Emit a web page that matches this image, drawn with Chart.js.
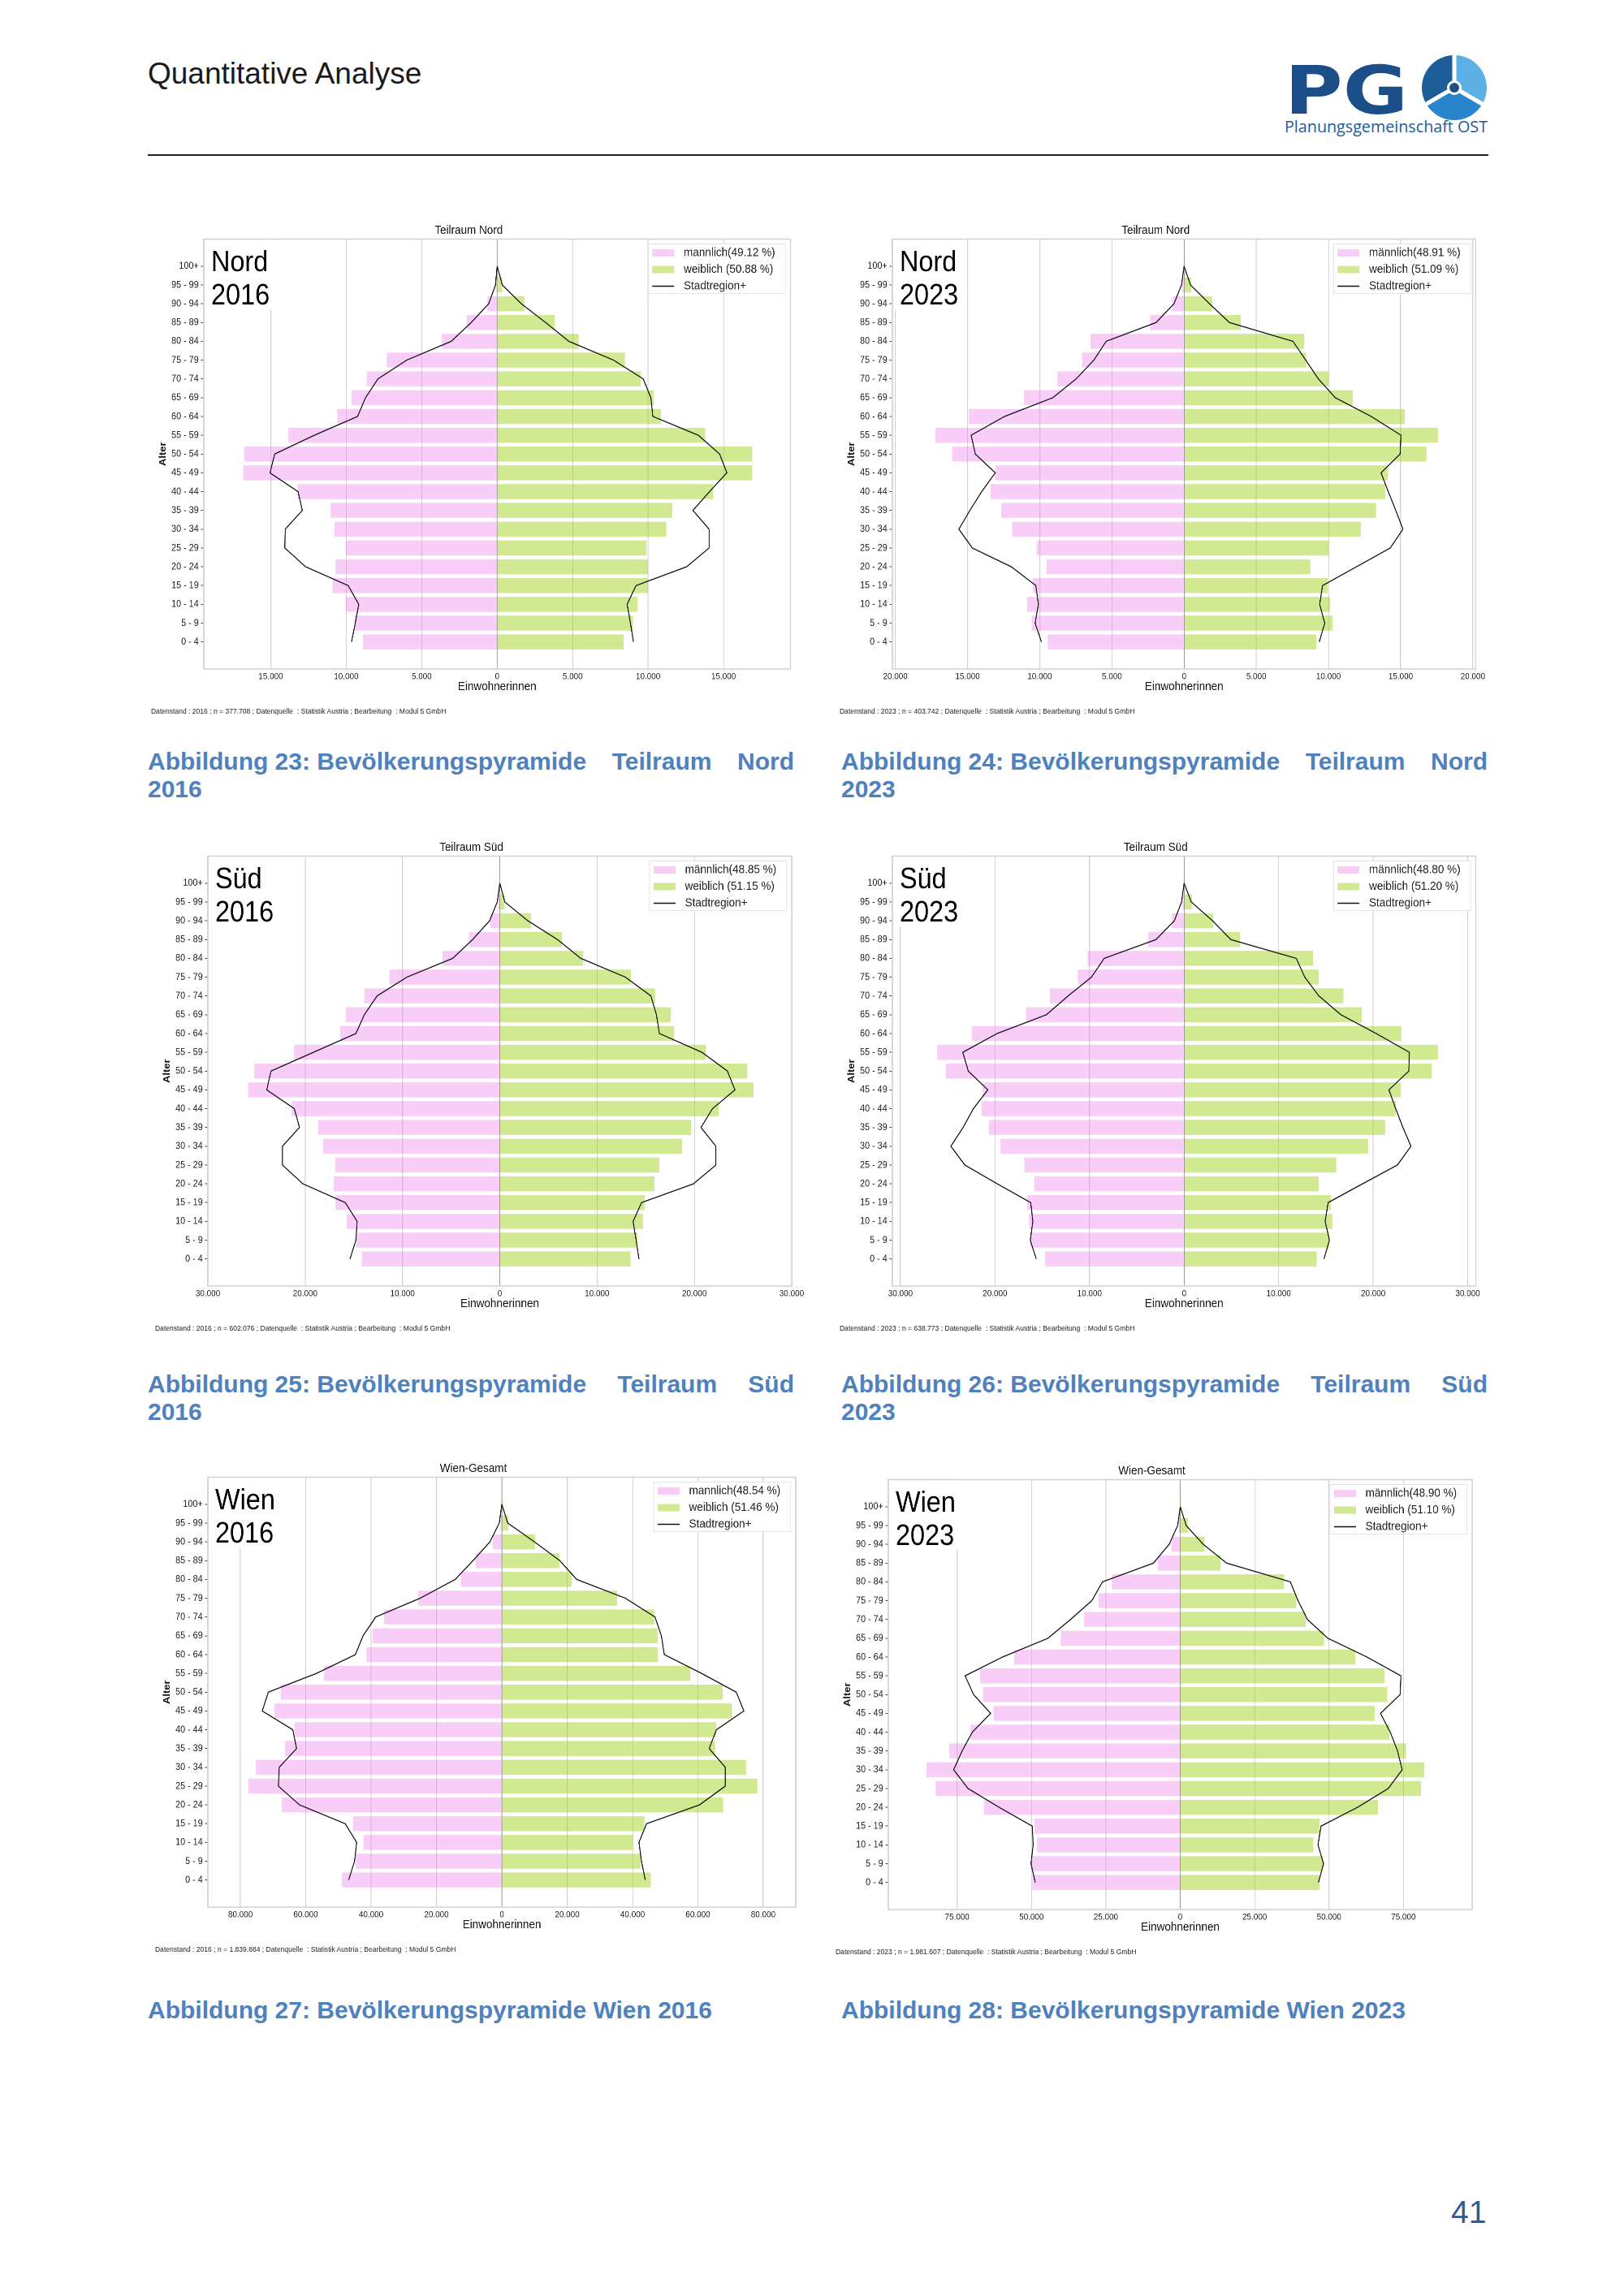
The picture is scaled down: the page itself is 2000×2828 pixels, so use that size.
<!DOCTYPE html>
<html lang="de">
<head>
<meta charset="utf-8">
<title>Bevölkerungspyramiden</title>
<script src="https://cdn.jsdelivr.net/npm/chart.js@4/dist/chart.umd.min.js"></script>
<style>
  body { margin: 0; width: 2000px; height: 2828px; background: #fff; position: relative; overflow: hidden;
         font-family: 'Liberation Sans', Arial, sans-serif; }
  .abs { position: absolute; }
  .head { left: 182px; top: 70px; font-size: 37px; line-height: 42px; color: #1a1a1a; }
  .rule { left: 182px; top: 190px; width: 1651px; height: 2px; background: #222; }
  .cap { position: absolute; width: 796px; font-weight: bold; font-size: 30px; line-height: 34px; color: #4f81bd; }
  .cap .j { text-align: justify; text-align-last: justify; }
  .cap .k { display: inline-block; white-space: nowrap; }
  .pyr { position: absolute; transform-origin: 0 0; transform: scaleX(0.9); }
  .pyr canvas { position: absolute; left: 0; top: 0; }
  .pyr .note { position: absolute; font-size: 9.5px; line-height: 12px; color: #222; white-space: pre; }
  .pnum { left: 1787px; top: 2703px; font-size: 39px; line-height: 44px; color: #2d5c9a; }
</style>
</head>
<body>

<div class="abs head">Quantitative Analyse</div>
<svg class="abs" style="left:1575px;top:68px" width="265" height="110" viewBox="0 0 265 110">
  <text x="7" y="72" font-family="DejaVu Sans" font-weight="bold" font-size="82" fill="#1c4f8a"
        textLength="152" lengthAdjust="spacingAndGlyphs">PG</text>
  <path d="M216 40 L216 0 A40 40 0 0 1 250.64 60 Z" fill="#5db0e5"/>
  <path d="M216 40 L250.64 60 A40 40 0 0 1 181.36 60 Z" fill="#2a86cc"/>
  <path d="M216 40 L181.36 60 A40 40 0 0 1 216 0 Z" fill="#1d5d99"/>
  <g stroke="#fff" stroke-width="5">
    <line x1="216" y1="40" x2="216" y2="-1"/>
    <line x1="216" y1="40" x2="252" y2="61"/>
    <line x1="216" y1="40" x2="180" y2="61"/>
  </g>
  <circle cx="216" cy="40" r="9" fill="#fff"/>
  <circle cx="216" cy="40" r="6" fill="#1d4f86"/>
  <text x="7" y="95" font-family="Open Sans" font-size="19.5" fill="#1f5b98"
        textLength="250" lengthAdjust="spacingAndGlyphs">Planungsgemeinschaft OST</text>
</svg>
<div class="abs rule"></div>

<div class="cap" style="left:182px;top:921px"><div class="j"><span class="k">Abbildung 23: Bevölkerungspyramide</span> Teilraum Nord</div><div>2016</div></div>
<div class="cap" style="left:1036px;top:921px"><div class="j"><span class="k">Abbildung 24: Bevölkerungspyramide</span> Teilraum Nord</div><div>2023</div></div>
<div class="cap" style="left:182px;top:1688px"><div class="j"><span class="k">Abbildung 25: Bevölkerungspyramide</span> Teilraum Süd</div><div>2016</div></div>
<div class="cap" style="left:1036px;top:1688px"><div class="j"><span class="k">Abbildung 26: Bevölkerungspyramide</span> Teilraum Süd</div><div>2023</div></div>
<div class="cap" style="left:182px;top:2459px">Abbildung 27: Bevölkerungspyramide Wien 2016</div>
<div class="cap" style="left:1036px;top:2459px">Abbildung 28: Bevölkerungspyramide Wien 2023</div>

<div class="abs pnum">41</div>

<script>
// age groups, bottom to top
const AGES = ['0 - 4', '5 - 9', '10 - 14', '15 - 19', '20 - 24', '25 - 29', '30 - 34', '35 - 39',
  '40 - 44', '45 - 49', '50 - 54', '55 - 59', '60 - 64', '65 - 69', '70 - 74', '75 - 79',
  '80 - 84', '85 - 89', '90 - 94', '95 - 99', '100+'];

// Teilraum Nord 2016
const NORD16_M = [8890, 9450, 10040, 10910, 10720, 10040, 10770, 11030, 13220, 16820, 16770, 13840, 10600, 9650, 8640, 7310, 3660, 2020, 650, 100, 10];
const NORD16_W = [8380, 9000, 9310, 9990, 9990, 9900, 11200, 11590, 14320, 16900, 16900, 13780, 10860, 10350, 9510, 8470, 5400, 3820, 1800, 340, 40];
const NORD16_LM = [9650, 9400, 9170, 9870, 12690, 14070, 14040, 12910, 13190, 15050, 14740, 12120, 9250, 8720, 7900, 5990, 3040, 1720, 560, 110, 0];
const NORD16_LW = [9030, 8830, 8610, 9200, 12550, 14040, 14040, 12970, 14070, 15220, 14740, 13330, 10320, 10180, 9680, 7710, 4750, 3210, 1600, 340, 0];
const NORD16_TICKS = [-15000, -10000, -5000, 0, 5000, 10000, 15000];

// Teilraum Nord 2023
const NORD23_M = [9440, 10560, 10880, 10470, 9530, 10210, 11910, 12670, 13400, 13080, 16070, 17220, 14930, 11090, 8770, 7070, 6480, 2350, 820, 150, 10];
const NORD23_W = [9150, 10290, 10120, 9940, 8740, 10030, 12230, 13290, 13930, 14110, 16780, 17570, 15280, 11670, 10030, 8450, 8330, 3930, 1940, 500, 40];
const NORD23_LM = [9880, 10320, 10090, 10270, 11970, 14670, 15600, 14840, 14020, 13080, 14460, 14750, 12440, 9090, 7480, 6250, 5400, 1940, 700, 180, 0];
const NORD23_LW = [9360, 9740, 9390, 9590, 11940, 14280, 15160, 14660, 14140, 13640, 14960, 15020, 12960, 10470, 9300, 8420, 7540, 3140, 1760, 440, 0];
const NORD23_TICKS = [-20000, -15000, -10000, -5000, 0, 5000, 10000, 15000, 20000];

// Teilraum Süd 2016
const SUED16_M = [14180, 14750, 15710, 16880, 17060, 16930, 18150, 18670, 21380, 25870, 25220, 21160, 16400, 15840, 13920, 11340, 5890, 3140, 1000, 150, 10];
const SUED16_W = [13440, 14140, 14700, 14880, 15880, 16400, 18720, 19680, 22510, 26090, 25440, 21200, 17930, 17580, 15970, 13480, 8550, 6370, 3190, 480, 50];
const SUED16_LM = [15400, 14790, 14660, 15880, 20240, 22340, 22340, 20590, 21120, 23950, 23520, 19150, 14790, 13920, 12610, 9550, 4840, 2790, 1050, 260, 0];
const SUED16_LW = [14310, 14010, 13700, 14570, 19900, 22210, 22210, 20680, 21860, 24170, 23390, 20770, 16400, 16100, 15530, 12910, 8330, 5930, 2880, 520, 0];
const SUED16_TICKS = [-30000, -20000, -10000, 0, 10000, 20000, 30000];

// Teilraum Süd 2023
const SUED23_M = [14700, 16270, 16400, 16580, 15820, 16900, 19410, 20630, 21440, 21300, 25210, 26110, 22470, 16720, 14200, 11240, 10200, 3780, 1300, 200, 10];
const SUED23_W = [14020, 15370, 15680, 15500, 14250, 16090, 19460, 21260, 22380, 22920, 26200, 26830, 22960, 18790, 16850, 14250, 13620, 5930, 3100, 810, 60];
const SUED23_LM = [15640, 16270, 16000, 16220, 19770, 23190, 24670, 23370, 22290, 20760, 22830, 23410, 19770, 14560, 12270, 9800, 8450, 2970, 1030, 270, 0];
const SUED23_LW = [14790, 15370, 14920, 15230, 18870, 22560, 24000, 23140, 22380, 21660, 23770, 23820, 20310, 16580, 14250, 12760, 11860, 4940, 3010, 760, 0];
const SUED23_TICKS = [-30000, -20000, -10000, 0, 10000, 20000, 30000];

// Wien-Gesamt 2016
const WIEN16_M = [48950, 44680, 42350, 45580, 67340, 77570, 75370, 66430, 63460, 69540, 67600, 54390, 41440, 39500, 36130, 25640, 12560, 8030, 2720, 400, 30];
const WIEN16_W = [45580, 42480, 40150, 43640, 67730, 78220, 74720, 65270, 65530, 70450, 67600, 57630, 47790, 47660, 46620, 35220, 21370, 17610, 10230, 1940, 200];
const WIEN16_LM = [46880, 45070, 44420, 47920, 61900, 68380, 68120, 62810, 63970, 73300, 71480, 56720, 44810, 42480, 38590, 24990, 14250, 8810, 3630, 780, 0];
const WIEN16_LW = [43900, 42740, 41960, 44290, 60480, 68380, 68380, 63460, 65660, 74070, 71740, 61120, 49730, 48820, 46880, 37810, 22920, 17740, 9970, 1810, 0];
const WIEN16_TICKS = [-80000, -60000, -40000, -20000, 0, 20000, 40000, 60000, 80000];

// Wien-Gesamt 2023
const WIEN23_M = [49730, 50020, 48160, 49010, 66020, 82170, 85310, 77590, 70450, 62730, 66300, 67300, 55870, 40150, 32300, 27440, 23010, 7430, 3000, 500, 40];
const WIEN23_W = [46870, 47870, 44730, 46730, 66450, 80880, 82020, 75880, 70300, 65300, 69590, 68590, 58870, 48300, 42160, 39010, 34870, 13580, 8150, 2570, 250];
const WIEN23_LM = [48730, 50160, 49440, 49730, 60880, 71310, 76170, 73310, 69880, 63730, 69450, 72310, 59730, 44440, 36870, 29720, 26150, 9000, 3720, 860, 0];
const WIEN23_LW = [46440, 48160, 46300, 47300, 59590, 69880, 74590, 73020, 70590, 67300, 73880, 74170, 62730, 49590, 42730, 39580, 37010, 15580, 7720, 2000, 0];
const WIEN23_TICKS = [-75000, -50000, -25000, 0, 25000, 50000, 75000];

const S = 0.9; // the pictures in the report are squeezed sideways a bit
const PINK = 'rgba(238,130,238,0.4)';
const GREEN = 'rgba(164,212,34,0.5)';
const FONT = "'Liberation Sans', Arial, sans-serif";
Chart.defaults.font.family = FONT;

const fmt = v => String(Math.abs(v)).replace(/\B(?=(\d{3})+(?!\d))/g, '.');

// light box round the plot
const frame = {
  id: 'frame',
  afterDatasetsDraw(c) {
    const a = c.chartArea, x = c.ctx;
    x.save();
    x.strokeStyle = '#d2d2d2';
    x.lineWidth = 1.5;
    x.strokeRect(a.left, a.top, a.right - a.left, a.bottom - a.top);
    x.restore();
  }
};

// big "Nord / 2016" text top left, on a white patch
const bigLabel = {
  id: 'bigLabel',
  beforeDatasetsDraw(c, args, o) {
    const a = c.chartArea, x = c.ctx;
    x.save();
    x.font = '36px ' + FONT;
    const w = Math.max(...o.lines.map(t => x.measureText(t).width));
    x.fillStyle = '#fff';
    x.fillRect(a.left + 1, a.top + 1, w + 16, 86);
    x.fillStyle = '#000';
    x.textBaseline = 'middle';
    o.lines.forEach((t, i) => x.fillText(t, a.left + 10, a.top + 29.5 + i * 41));
    x.restore();
  }
};

// matplotlib style legend box top right
const boxLegend = {
  id: 'boxLegend',
  afterDatasetsDraw(c) {
    const a = c.chartArea, x = c.ctx;
    const items = [];
    c.data.datasets.forEach(d => { if (!items.some(i => i.label === d.label)) items.push(d); });
    x.save();
    x.font = '15px ' + FONT;
    const tw = Math.max(...items.map(d => x.measureText(d.label).width));
    const w = 5.5 + 30 + 13 + tw + 14;
    const right = a.right - 7, left = right - w, top = a.top + 6;
    x.fillStyle = '#fff';
    x.strokeStyle = '#e4e4e4';
    x.lineWidth = 1;
    x.fillRect(left, top, w, 61);
    x.strokeRect(left, top, w, 61);
    items.forEach((d, i) => {
      const y = top + 11 + i * 20.5;
      if (d.type === 'line') {
        x.strokeStyle = d.borderColor;
        x.lineWidth = 1.6;
        x.beginPath(); x.moveTo(left + 5.5, y); x.lineTo(left + 35.5, y); x.stroke();
      } else {
        x.fillStyle = d.backgroundColor;
        x.fillRect(left + 5.5, y - 4.5, 30, 9);
      }
      x.fillStyle = '#222';
      x.textBaseline = 'middle';
      x.fillText(d.label, left + 48.5, y);
    });
    x.restore();
  }
};

function pyramid(o) {
  const left = o.frameL - 70, top = o.ty - 16;
  const W = Math.round((o.frameR + 30 - left) / S), H = 587;
  const frameRu = (o.frameR - left) / S;

  const box = document.createElement('div');
  box.className = 'pyr';
  box.style.left = left + 'px';
  box.style.top = top + 'px';
  box.style.width = W + 'px';
  box.style.height = '620px';
  const cv = document.createElement('canvas');
  cv.width = W;
  cv.height = H;
  box.appendChild(cv);
  const note = document.createElement('div');
  note.className = 'note';
  note.style.left = '5.5px';
  note.style.top = '602px';
  note.textContent = o.note;
  box.appendChild(note);
  document.body.appendChild(box);

  const lim = Math.max(...o.male, ...o.female) * 1.15;
  const barOpts = { grouped: false, barPercentage: 0.8, categoryPercentage: 1, order: 2 };
  const lineOpts = { borderColor: '#111', borderWidth: 1.3, pointRadius: 0, fill: false, order: 1 };

  new Chart(cv, {
    type: 'bar',
    data: {
      datasets: [
        { type: 'bar', label: o.mLabel, data: o.male.map((v, i) => ({ x: -v, y: i })), backgroundColor: PINK, ...barOpts },
        { type: 'bar', label: o.wLabel, data: o.female.map((v, i) => ({ x: v, y: i })), backgroundColor: GREEN, ...barOpts },
        { type: 'line', label: 'Stadtregion+', data: o.lineM.map((v, i) => ({ x: -v, y: i })), ...lineOpts },
        { type: 'line', label: 'Stadtregion+', data: o.lineW.map((v, i) => ({ x: v, y: i })), ...lineOpts }
      ]
    },
    options: {
      responsive: false,
      animation: false,
      devicePixelRatio: 2,
      indexAxis: 'y',
      layout: { padding: { left: 0, right: W - frameRu, top: 0, bottom: 0 } },
      plugins: {
        legend: { display: false },
        tooltip: { enabled: false },
        title: { display: true, text: o.title, color: '#111', font: { size: 15, weight: 'normal' },
                 padding: { top: 7, bottom: 1.5 } },
        bigLabel: { lines: o.big }
      },
      scales: {
        x: {
          type: 'linear', min: -lim, max: lim,
          afterBuildTicks: ax => { ax.ticks = o.ticks.map(v => ({ value: v })); },
          afterFit: ax => { ax.height = 31; },
          ticks: { callback: v => fmt(v), color: '#222', font: { size: 11 }, padding: 3, maxRotation: 0, autoSkip: false },
          grid: { color: c => (c.tick && c.tick.value === 0 ? '#9a9a9a' : '#d0d0d0'), lineWidth: 1.2, drawTicks: false },
          border: { display: false },
          title: { display: true, text: 'Einwohnerinnen', color: '#111', font: { size: 15 }, padding: 0 }
        },
        y: {
          type: 'linear', min: -1.44, max: 21.44, offset: false,
          afterBuildTicks: ax => { ax.ticks = AGES.map((_, i) => ({ value: i })); },
          afterFit: ax => { ax.width = 70 / S; },
          ticks: { callback: v => AGES[v], color: '#222', font: { size: 12 }, padding: 3, autoSkip: false },
          grid: { offset: false, drawOnChartArea: false, drawTicks: true, tickLength: 4, color: '#444', lineWidth: 1 },
          border: { display: false },
          title: { display: true, text: 'Alter', color: '#111', font: { size: 13, weight: 'bold' }, padding: { top: 14, bottom: 0 } }
        }
      }
    },
    plugins: [frame, bigLabel, boxLegend]
  });
}

const NOTE = (year, n) => 'Datenstand : ' + year + ' ; n = ' + n +
  ' ; Datenquelle  : Statistik Austria ; Bearbeitung  : Modul 5 GmbH';

pyramid({ title: 'Teilraum Nord', big: ['Nord', '2016'], mLabel: 'mannlich(49.12 %)', wLabel: 'weiblich (50.88 %)',
  male: NORD16_M, female: NORD16_W, lineM: NORD16_LM, lineW: NORD16_LW, ticks: NORD16_TICKS,
  note: NOTE('2016', '377.708'), frameL: 251, frameR: 973.5, ty: 284 });
pyramid({ title: 'Teilraum Nord', big: ['Nord', '2023'], mLabel: 'männlich(48.91 %)', wLabel: 'weiblich (51.09 %)',
  male: NORD23_M, female: NORD23_W, lineM: NORD23_LM, lineW: NORD23_LW, ticks: NORD23_TICKS,
  note: NOTE('2023', '403.742'), frameL: 1098.5, frameR: 1817, ty: 284 });
pyramid({ title: 'Teilraum Süd', big: ['Süd', '2016'], mLabel: 'männlich(48.85 %)', wLabel: 'weiblich (51.15 %)',
  male: SUED16_M, female: SUED16_W, lineM: SUED16_LM, lineW: SUED16_LW, ticks: SUED16_TICKS,
  note: NOTE('2016', '602.076'), frameL: 256, frameR: 975, ty: 1044 });
pyramid({ title: 'Teilraum Süd', big: ['Süd', '2023'], mLabel: 'männlich(48.80 %)', wLabel: 'weiblich (51.20 %)',
  male: SUED23_M, female: SUED23_W, lineM: SUED23_LM, lineW: SUED23_LW, ticks: SUED23_TICKS,
  note: NOTE('2023', '638.773'), frameL: 1098.5, frameR: 1817, ty: 1044 });
pyramid({ title: 'Wien-Gesamt', big: ['Wien', '2016'], mLabel: 'mannlich(48.54 %)', wLabel: 'weiblich (51.46 %)',
  male: WIEN16_M, female: WIEN16_W, lineM: WIEN16_LM, lineW: WIEN16_LW, ticks: WIEN16_TICKS,
  note: NOTE('2016', '1.839.884'), frameL: 256, frameR: 980, ty: 1809 });
pyramid({ title: 'Wien-Gesamt', big: ['Wien', '2023'], mLabel: 'männlich(48.90 %)', wLabel: 'weiblich (51.10 %)',
  male: WIEN23_M, female: WIEN23_W, lineM: WIEN23_LM, lineW: WIEN23_LW, ticks: WIEN23_TICKS,
  note: NOTE('2023', '1.981.607'), frameL: 1094, frameR: 1813, ty: 1812 });
</script>
</body>
</html>
